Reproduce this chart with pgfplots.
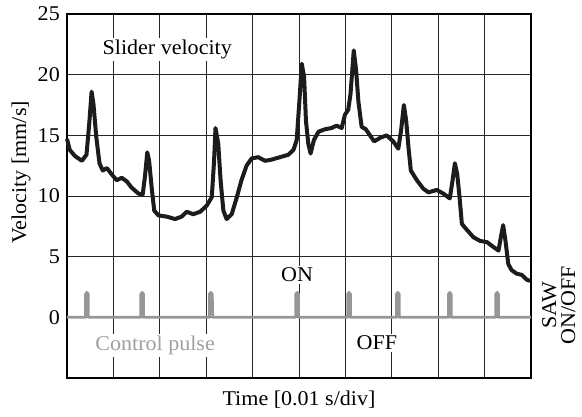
\documentclass[border=0pt]{standalone}
\usepackage{fontspec}
\setmainfont{Liberation Serif}[FakeStretch=1.05]
\usepackage{pgfplots}
\pgfplotsset{compat=1.18}

\definecolor{pulsegray}{RGB}{150,150,150}
\definecolor{labelgray}{RGB}{160,160,160}
\definecolor{curve}{RGB}{28,28,28}

\begin{document}
\fontsize{21}{24}\selectfont
\begin{tikzpicture}
\begin{axis}[
    scale only axis,
    width=464pt, height=364pt,
    xmin=0, xmax=10, ymin=-5, ymax=25,
    xtick={0,1,...,10}, xticklabels={},
    ytick={0,5,...,25},
    grid=major,
    grid style={black!85, line width=0.7pt},
    major tick length=0pt,
    axis line style={line width=1.4pt},
    tick label style={font=\fontsize{21}{24}\selectfont},
    /pgf/number format/assume math mode=true,
    xlabel={Time [0.01 s/div]},
    xlabel style={at={(axis description cs:0.5,-0.0604)}, anchor=center},
    ylabel={Velocity [mm/s]},
    ylabel style={at={(axis description cs:-0.099,0.565)}, anchor=center},
    label style={font=\fontsize{21}{24}\selectfont},
    clip=false,
]
% control pulse (SAW ON/OFF)
\addplot[pulsegray, line width=2.8pt, line join=round] coordinates {
(0,0) (0.40,0) (0.40,1.9) (0.43,2.05) (0.46,1.9) (0.46,0)
(1.59,0) (1.59,1.9) (1.62,2.05) (1.65,1.9) (1.65,0)
(3.07,0) (3.07,1.9) (3.10,2.05) (3.13,1.9) (3.14,0)
(4.93,0) (4.93,1.9) (4.96,2.05) (4.99,1.9) (4.99,0)
(6.05,0) (6.05,1.9) (6.08,2.05) (6.11,1.9) (6.11,0)
(7.10,0) (7.10,1.9) (7.13,2.05) (7.16,1.9) (7.16,0)
(8.22,0) (8.22,1.9) (8.25,2.05) (8.28,1.9) (8.28,0)
(9.24,0) (9.24,1.9) (9.27,2.05) (9.30,1.9) (9.30,0)
(10,0)
};
% slider velocity
\addplot[curve, line width=4pt, line join=round] coordinates {
(0,14.7) (0.06,13.8) (0.17,13.3) (0.32,12.9) (0.42,13.4) (0.48,16.0)
(0.53,18.6) (0.57,17.6) (0.63,14.9) (0.70,12.7) (0.77,12.1) (0.86,12.3)
(0.96,11.8) (1.07,11.3) (1.18,11.5) (1.29,11.2) (1.39,10.7) (1.54,10.2)
(1.63,10.1) (1.68,11.6) (1.73,13.6) (1.77,12.9) (1.83,10.5) (1.88,8.8)
(1.97,8.4) (2.15,8.3) (2.33,8.1) (2.47,8.3) (2.58,8.7) (2.72,8.5)
(2.87,8.7) (3.01,9.2) (3.12,9.9) (3.17,12.9) (3.20,15.6) (3.26,14.3)
(3.31,11.3) (3.37,8.8) (3.44,8.1) (3.55,8.5) (3.66,9.9) (3.76,11.3)
(3.87,12.5) (3.98,13.1) (4.12,13.2) (4.27,12.9) (4.41,13.0) (4.59,13.2)
(4.77,13.4) (4.88,13.8) (4.95,14.6) (5.01,17.9) (5.06,20.9) (5.11,19.8)
(5.15,16.2) (5.20,14.3) (5.25,13.5) (5.32,14.6) (5.42,15.3) (5.56,15.5)
(5.70,15.6) (5.81,15.8) (5.92,15.6) (5.99,16.7) (6.06,17.1) (6.11,18.4)
(6.18,22.0) (6.23,20.4) (6.28,17.8) (6.35,15.7) (6.44,15.5) (6.53,15.0)
(6.62,14.5) (6.75,14.8) (6.89,15.0) (7.03,14.5) (7.14,13.9) (7.20,15.4)
(7.26,17.5) (7.31,16.2) (7.36,14.0) (7.41,12.1) (7.54,11.3) (7.68,10.6)
(7.79,10.3) (7.97,10.5) (8.11,10.2) (8.25,9.8) (8.31,11.3) (8.36,12.7)
(8.41,11.8) (8.46,9.9) (8.51,7.7) (8.62,7.2) (8.76,6.6) (8.90,6.3)
(9.05,6.2) (9.19,5.8) (9.30,5.5) (9.35,6.6) (9.40,7.6) (9.45,6.3)
(9.51,4.4) (9.58,3.9) (9.69,3.6) (9.80,3.5) (9.91,3.1) (9.98,3.0)
};
\node[fill=white, inner sep=2pt] at (axis cs:2.16,22.1) {Slider velocity};
\node[fill=white, inner sep=2pt] at (axis cs:4.96,3.5) {ON};
\node[fill=white, inner sep=2pt] at (axis cs:6.68,-2.1) {OFF};
\node[fill=white, inner sep=2pt, text=labelgray] at (axis cs:1.90,-2.3) {Control pulse};
\node[rotate=90, align=center, inner sep=0pt] at (axis cs:10.60,1.0) {SAW\\[-5pt]ON/OFF};
\end{axis}
\pgfresetboundingbox
\path ([shift={(-67pt,-38pt)}]current axis.south west) rectangle ([shift={(51pt,14pt)}]current axis.north east);
\end{tikzpicture}
\end{document}
